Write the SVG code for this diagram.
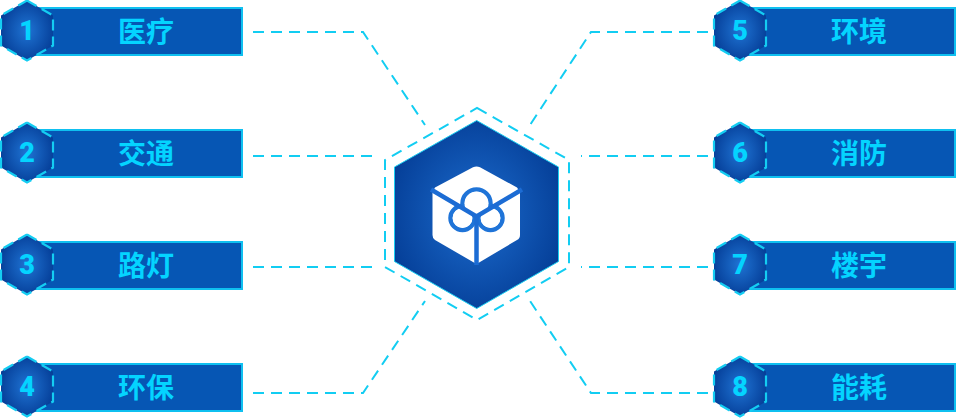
<svg xmlns="http://www.w3.org/2000/svg" width="956" height="418" viewBox="0 0 956 418">
<style>
.c{fill:none;stroke:#12cdf2;stroke-width:2;stroke-dasharray:11 7}
.bar{fill:#0656b4;stroke:#0fc0f0;stroke-width:2}
.hx{fill:url(#g)}
.hd{fill:none;stroke:#14cdf2;stroke-width:2.200;stroke-dasharray:11 6}
.t{font-family:"Noto Sans CJK SC","Noto Sans",sans-serif;font-size:28px;fill:#04d4ff;text-anchor:middle;font-weight:700}
.n{font-family:Roboto,sans-serif;font-size:27px;font-weight:900;fill:#04d4ff;text-anchor:middle}
.y{fill:none;stroke:#1f74d8;stroke-width:4.500}
</style>
<defs>
<radialGradient id="g" cx="50%" cy="50%" r="52%"><stop offset="0" stop-color="#1f74d4"/><stop offset="1" stop-color="#06409a"/></radialGradient>
<radialGradient id="g2" cx="50%" cy="50%" r="55%"><stop offset="0" stop-color="#1c6cce"/><stop offset="1" stop-color="#053f98"/></radialGradient>
<g id="h"><polygon class="hx" points="27,0.5 53,15.500 53,45.500 27,60.500 1,45.500 1,15.500"/><polyline class="hd" points="27,0.500 53,15.500 53,45.500 27,60.500 1,45.500 1,15.500 27,0.500"/></g>
</defs>
<g id="connectors">
<polyline class="c" points="253,32 363,32 425,125"/>
<polyline class="c" points="253,156 373,156"/>
<polyline class="c" points="253,267 373,267"/>
<polyline class="c" points="253,393 363,393 425,301"/>
<polyline class="c" points="708,32 591,32 530,125"/>
<polyline class="c" points="708,156 581,156"/>
<polyline class="c" points="708,267 581,267"/>
<polyline class="c" points="708,393 591,393 530,301"/>
</g>
<g id="center">
<polygon points="477,108 569,160 569,267 477,320 385,267 385,160" fill="none" stroke="#12cdf2" stroke-width="2" stroke-dasharray="11 7"/>
<polygon points="476.700,120.500 558.500,167 558.500,261.500 476.700,308.500 394.500,261.500 394.500,167" fill="url(#g2)" stroke="#19cdf0" stroke-width="1"/>
<path d="M473,167.300 Q476.500,165.500 480,167.300 L517,187.500 L520,192 V235 Q520,238.500 517,240 L480,262 L476.500,264 L473,262 L435,240 Q432.500,238.500 432.500,235 V192 L435,187.500 Z" fill="#fff"/>
<circle class="y" cx="476.500" cy="203.500" r="14"/>
<circle class="y" cx="462.500" cy="218" r="12"/>
<circle class="y" cx="490.500" cy="218" r="12"/>
<circle cx="476.500" cy="203.500" r="12" fill="#fff"/>
<circle cx="462.500" cy="218" r="10" fill="#fff"/>
<circle cx="490.500" cy="218" r="10" fill="#fff"/>
<path d="M431,189.500 L476.500,216.500 L522,189.500 M476.500,216.500 V265" fill="none" stroke="#1c6cd4" stroke-width="4.500"/>
</g>
<g id="n1"><rect class="bar" x="30" y="8" width="212" height="47"/><use href="#h"/><text class="n" x="27" y="40">1</text><text class="t" x="146" y="42">医疗</text></g>
<g id="n2"><rect class="bar" x="30" y="130" width="212" height="47"/><use href="#h" y="122"/><text class="n" x="27" y="162">2</text><text class="t" x="146" y="164">交通</text></g>
<g id="n3"><rect class="bar" x="30" y="242" width="212" height="47"/><use href="#h" y="234"/><text class="n" x="27" y="274">3</text><text class="t" x="146" y="276">路灯</text></g>
<g id="n4"><rect class="bar" x="30" y="364" width="212" height="47"/><use href="#h" y="356"/><text class="n" x="27" y="396">4</text><text class="t" x="146" y="398">环保</text></g>
<g id="n5"><rect class="bar" x="743" y="8" width="212" height="47"/><use href="#h" x="713"/><text class="n" x="740" y="40">5</text><text class="t" x="859" y="42">环境</text></g>
<g id="n6"><rect class="bar" x="743" y="130" width="212" height="47"/><use href="#h" x="713" y="122"/><text class="n" x="740" y="162">6</text><text class="t" x="859" y="164">消防</text></g>
<g id="n7"><rect class="bar" x="743" y="242" width="212" height="47"/><use href="#h" x="713" y="234"/><text class="n" x="740" y="274">7</text><text class="t" x="859" y="276">楼宇</text></g>
<g id="n8"><rect class="bar" x="743" y="364" width="212" height="47"/><use href="#h" x="713" y="356"/><text class="n" x="740" y="396">8</text><text class="t" x="859" y="398">能耗</text></g>
</svg>
